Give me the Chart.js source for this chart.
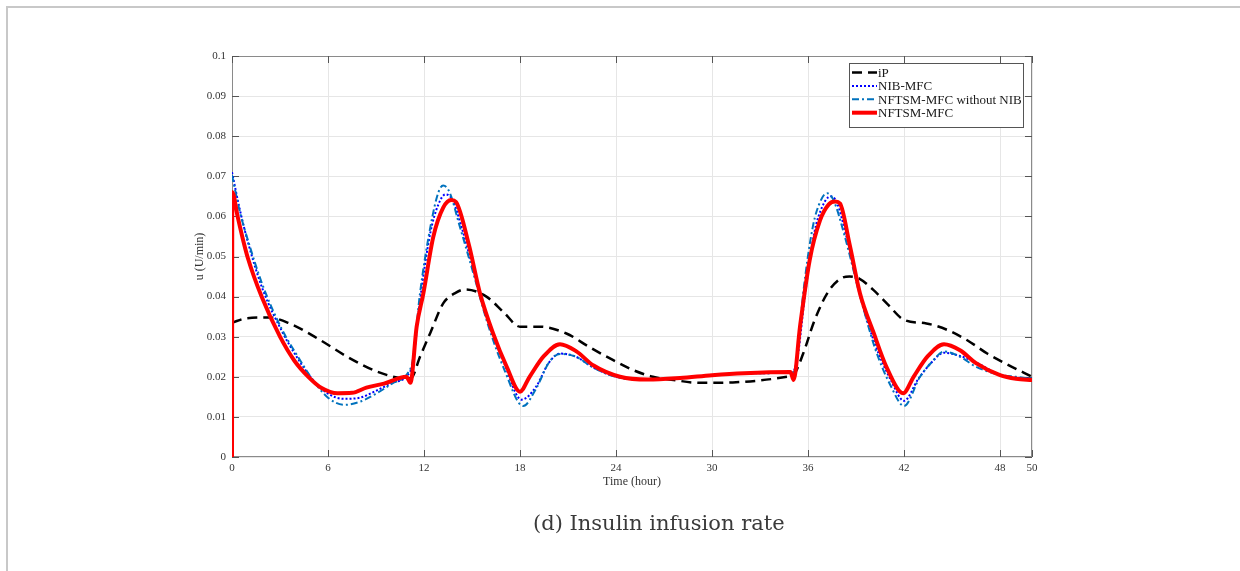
<!DOCTYPE html>
<html lang="en">

<head>
    <meta charset="UTF-8">
    <title>Insulin infusion rate</title>
    <script src="https://cdn.jsdelivr.net/npm/chart.js"></script>
    <style>
        html, body { margin: 0; padding: 0; background: #fff; }
        #wrap { position: relative; width: 1240px; height: 571px; overflow: hidden; }
        #frame {
            position: absolute; left: 6px; top: 6px; width: 1300px; height: 600px;
            border-top: 2px solid #c8c8c8; border-left: 2px solid #c8c8c8;
        }
        #chart { position: absolute; left: 0; top: 0; }
        #caption {
            position: absolute; left: 533px; top: 511px; white-space: nowrap;
            font-family: "DejaVu Serif"; font-size: 21px; line-height: 24px; color: #3a3a3a;
        }
    </style>
</head>

<body>
    <div id="wrap">
        <div id="frame"></div>
        <canvas id="chart" width="1240" height="571"></canvas>
        <div id="caption">(d) Insulin infusion rate</div>
    </div>
    <script>
        // axis ticks
        const xTicks = [0, 6, 12, 18, 24, 30, 36, 42, 48, 50];
        const yTicks = [0, 0.01, 0.02, 0.03, 0.04, 0.05, 0.06, 0.07, 0.08, 0.09, 0.1];

        // iP
        const ipT = [0, 0.9, 2.3, 3.6, 5.5, 7.2, 9.2, 10.9, 11.2, 11.75, 12.4, 13.2, 14.0, 14.6, 15.9, 17.0, 18.0, 19.2, 20.9, 22.3, 23.8, 25.0, 26.3, 27.6, 29.2, 31.3, 33.0, 34.7, 35.1, 35.7, 36.4, 37.2, 38.0, 38.6, 39.2, 40.1, 41.0, 42.0, 43.4, 44.7, 46.0, 47.2, 48.5, 50];
        const ipU = [0.0335, 0.0346, 0.0348, 0.0333, 0.0292, 0.025, 0.0211, 0.0196, 0.0197, 0.025, 0.031, 0.0383, 0.041, 0.0418, 0.040, 0.036, 0.0325, 0.0325, 0.0308, 0.0275, 0.0242, 0.0218, 0.020, 0.0192, 0.0185, 0.0186, 0.0191, 0.020, 0.0205, 0.0258, 0.034, 0.0408, 0.0444, 0.045, 0.0445, 0.0416, 0.038, 0.0342, 0.0333, 0.0317, 0.029, 0.0258, 0.023, 0.020];

        // NIB-MFC
        const nbT = [0, 0.5, 1.0, 1.9, 3.1, 4.2, 5.0, 6.0, 7.0, 8.0, 9.0, 10.0, 11.0, 11.3, 11.75, 12.4, 12.9, 13.35, 13.8, 14.3, 15.0, 16.0, 17.0, 18.1, 19.0, 19.8, 20.5, 21.5, 22.5, 24.0, 26.0, 28.0, 30.0, 32.0, 35.0, 35.35, 35.8, 36.4, 36.9, 37.4, 37.8, 38.4, 39.2, 40.2, 41.2, 42.0, 42.9, 43.7, 44.5, 45.5, 46.5, 48.0, 49.0, 50];
        const nbU = [0.071, 0.0615, 0.0535, 0.042, 0.0315, 0.024, 0.0195, 0.0158, 0.0145, 0.0148, 0.0165, 0.0185, 0.0205, 0.0235, 0.039, 0.056, 0.063, 0.0655, 0.064, 0.058, 0.048, 0.034, 0.0235, 0.0143, 0.0175, 0.0235, 0.0258, 0.025, 0.0225, 0.020, 0.0193, 0.0197, 0.0204, 0.0209, 0.021, 0.025, 0.040, 0.056, 0.0625, 0.065, 0.0635, 0.055, 0.041, 0.028, 0.019, 0.014, 0.0195, 0.0235, 0.026, 0.0252, 0.0236, 0.0205, 0.0198, 0.0195];

        // NFTSM-MFC without NIB
        const wnT = [0, 0.5, 1.0, 1.9, 3.1, 4.2, 5.0, 6.0, 7.0, 8.0, 9.0, 10.0, 11.0, 11.3, 11.75, 12.4, 12.9, 13.2, 13.6, 14.2, 15.0, 16.0, 17.0, 18.2, 19.0, 19.8, 20.5, 21.5, 22.5, 24.0, 26.0, 28.0, 30.0, 32.0, 35.0, 35.3, 35.7, 36.3, 36.8, 37.2, 37.6, 38.3, 39.2, 40.2, 41.2, 42.0, 43.0, 43.7, 44.5, 45.5, 46.5, 48.0, 49.0, 50];
        const wnU = [0.0703, 0.061, 0.054, 0.043, 0.032, 0.0245, 0.0195, 0.0148, 0.013, 0.0138, 0.0158, 0.0183, 0.021, 0.0242, 0.0408, 0.0574, 0.066, 0.0677, 0.066, 0.058, 0.047, 0.033, 0.022, 0.0127, 0.017, 0.0235, 0.0257, 0.025, 0.0225, 0.020, 0.0193, 0.0197, 0.0204, 0.0209, 0.021, 0.0242, 0.0408, 0.0574, 0.064, 0.0658, 0.064, 0.055, 0.041, 0.027, 0.0175, 0.0127, 0.020, 0.0235, 0.0263, 0.025, 0.0225, 0.0205, 0.020, 0.0195];

        // NFTSM-MFC
        const nfT = [0, 0.02, 0.35, 0.7, 1.0, 1.85, 3.0, 3.9, 4.77, 5.6, 6.6, 7.5, 8.4, 9.5, 10.9, 11.15, 11.54, 11.96, 12.58, 13.2, 13.7, 14.0, 14.8, 15.5, 16.3, 17.17, 18.0, 18.6, 19.5, 20.5, 21.5, 22.6, 24.25, 26.0, 28.0, 30.0, 32.0, 34.9, 35.1, 35.5, 36.1, 36.75, 37.3, 37.7, 38.0, 38.6, 39.25, 40.1, 40.9, 41.95, 42.6, 43.5, 44.5, 45.5, 46.5, 48.0, 49.0, 50];
        const nfU = [0, 0.066, 0.060, 0.054, 0.0495, 0.040, 0.030, 0.024, 0.020, 0.0172, 0.0159, 0.016, 0.0173, 0.0183, 0.020, 0.0185, 0.0325, 0.0408, 0.0549, 0.0622, 0.0641, 0.0636, 0.053, 0.0408, 0.031, 0.0225, 0.0163, 0.020, 0.0252, 0.0281, 0.0264, 0.0228, 0.020, 0.0193, 0.0197, 0.0204, 0.0209, 0.0212, 0.0192, 0.0325, 0.049, 0.059, 0.063, 0.0637, 0.0632, 0.053, 0.0408, 0.031, 0.0225, 0.0159, 0.020, 0.0252, 0.0281, 0.0266, 0.0234, 0.0204, 0.0195, 0.0192];

        const pts = (ts, us) => ts.map((t, i) => ({ x: t, y: us[i] }));
        const serif = '"Liberation Serif", "Times New Roman", serif';

        // box, inward ticks (matlab style) and the legend inside the axes
        const matlabAxes = {
            id: 'matlabAxes',
            beforeDatasetsDraw(chart) {
                const { ctx, chartArea: a, scales } = chart;
                ctx.save();
                ctx.strokeStyle = '#8a8a8a';
                ctx.lineWidth = 1;
                ctx.strokeRect(a.left + 0.5, a.top + 0.5, a.right - a.left - 1, a.bottom - a.top - 1);
                ctx.strokeStyle = '#555';
                ctx.beginPath();
                xTicks.forEach(v => {
                    const x = Math.round(scales.x.getPixelForValue(v)) + 0.5;
                    ctx.moveTo(x, a.bottom); ctx.lineTo(x, a.bottom - 7);
                    ctx.moveTo(x, a.top); ctx.lineTo(x, a.top + 7);
                });
                yTicks.forEach(v => {
                    const y = Math.round(scales.y.getPixelForValue(v)) + 0.5;
                    ctx.moveTo(a.left, y); ctx.lineTo(a.left + 7, y);
                    ctx.moveTo(a.right, y); ctx.lineTo(a.right - 7, y);
                });
                ctx.stroke();
                ctx.restore();
            },
            afterDraw(chart) {
                const { ctx, chartArea: a } = chart;
                const bx = a.right - 183, by = a.top + 7, bw = 174, bh = 64;
                ctx.save();
                ctx.fillStyle = '#fff';
                ctx.fillRect(bx, by, bw, bh);
                ctx.strokeStyle = '#555';
                ctx.lineWidth = 1;
                ctx.strokeRect(bx + 0.5, by + 0.5, bw, bh);
                ctx.font = '13px ' + serif;
                ctx.textBaseline = 'middle';
                chart.data.datasets.forEach((ds, i) => {
                    const y = by + 9.5 + i * 13.4;
                    ctx.strokeStyle = ds.borderColor;
                    ctx.lineWidth = ds.borderWidth;
                    ctx.setLineDash(ds.borderDash || []);
                    ctx.beginPath();
                    ctx.moveTo(bx + 3, y);
                    ctx.lineTo(bx + 28, y);
                    ctx.stroke();
                    ctx.setLineDash([]);
                    ctx.fillStyle = '#1a1a1a';
                    ctx.fillText(ds.label, bx + 29, y + 1);
                });
                ctx.restore();
            }
        };

        const ctx = document.getElementById('chart').getContext('2d');
        const myChart = new Chart(ctx, {
            type: 'line',
            data: {
                datasets: [{
                    label: 'iP',
                    data: pts(ipT, ipU),
                    borderColor: '#000000',
                    borderWidth: 2.5,
                    borderDash: [10, 6],
                    order: 3
                }, {
                    label: 'NIB-MFC',
                    data: pts(nbT, nbU),
                    borderColor: '#0000ff',
                    borderWidth: 2,
                    borderDash: [2, 2],
                    order: 2
                }, {
                    label: 'NFTSM-MFC without NIB',
                    data: pts(wnT, wnU),
                    borderColor: '#0072bd',
                    borderWidth: 2,
                    borderDash: [7, 3, 2, 3],
                    order: 1
                }, {
                    label: 'NFTSM-MFC',
                    data: pts(nfT, nfU),
                    borderColor: '#ff0000',
                    borderWidth: 4,
                    borderCapStyle: 'round',
                    borderJoinStyle: 'round',
                    order: 0
                }]
            },
            options: {
                responsive: false,
                animation: false,
                devicePixelRatio: 1,
                layout: { padding: { left: 150, top: 56, right: 208, bottom: 74 } },
                elements: {
                    point: { radius: 0 },
                    line: { tension: 0.4, cubicInterpolationMode: 'monotone' }
                },
                plugins: {
                    legend: { display: false },
                    tooltip: { enabled: false }
                },
                scales: {
                    x: {
                        type: 'linear',
                        min: 0,
                        max: 50,
                        afterBuildTicks: s => { s.ticks = xTicks.map(v => ({ value: v })); },
                        afterFit: s => { s.height = 40; },
                        grid: { color: '#e6e6e6', drawTicks: false },
                        border: { display: false },
                        ticks: { color: '#333', padding: 5, font: { family: serif, size: 11 }, maxRotation: 0 },
                        title: { display: true, text: 'Time (hour)', color: '#333', font: { family: serif, size: 12 }, padding: { top: 0, bottom: 8 } }
                    },
                    y: {
                        min: 0,
                        max: 0.1,
                        afterBuildTicks: s => { s.ticks = yTicks.map(v => ({ value: v })); },
                        afterFit: s => { s.width = 82; },
                        grid: { color: '#e6e6e6', drawTicks: false },
                        border: { display: false },
                        ticks: {
                            color: '#333', padding: 6, font: { family: serif, size: 11 },
                            callback: v => String(+v.toFixed(2))
                        },
                        title: { display: true, text: 'u (U/min)', color: '#333', font: { family: serif, size: 12 }, padding: { top: 43, bottom: 0 } }
                    }
                }
            },
            plugins: [matlabAxes]
        });
    </script>
</body>

</html>
